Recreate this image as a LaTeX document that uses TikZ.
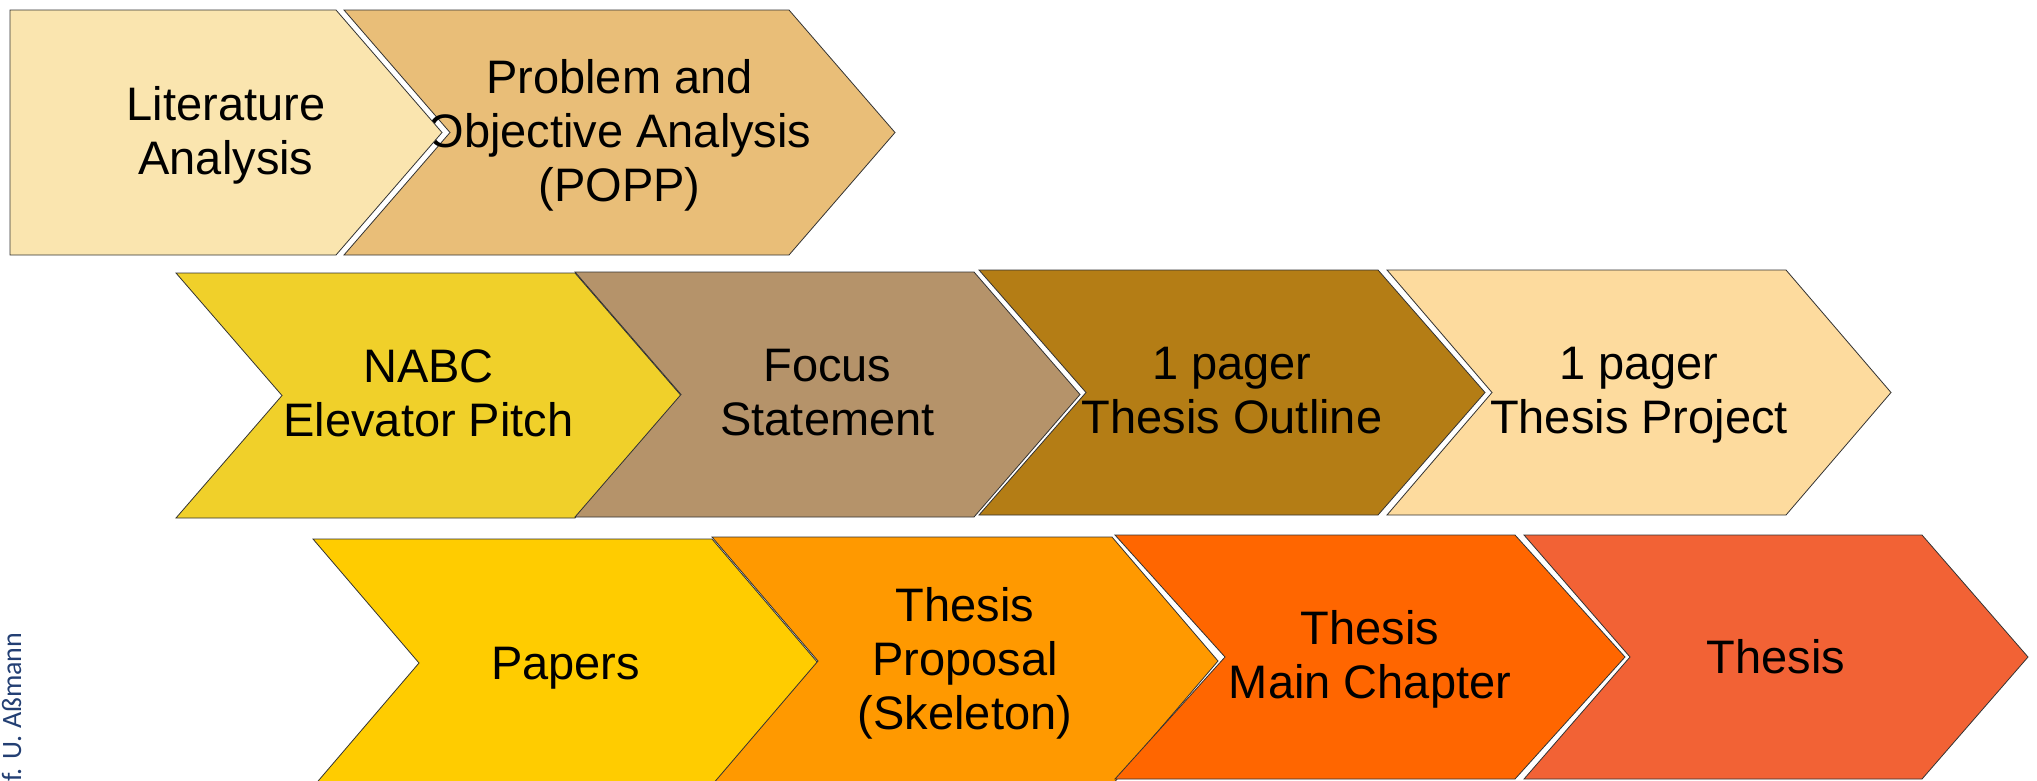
\documentclass[tikz,border=0pt]{standalone}
\usepackage{fontspec}
\setmainfont{Liberation Sans}
\newfontfamily\authorfont{Carlito}

\definecolor{cLit}{HTML}{FAE5AF}
\definecolor{cProb}{HTML}{E9BE78}
\definecolor{cNabc}{HTML}{F0D02A}
\definecolor{cFocus}{HTML}{B5936A}
\definecolor{cOutline}{HTML}{B47D15}
\definecolor{cProject}{HTML}{FDDB9E}
\definecolor{cPapers}{HTML}{FFCC00}
\definecolor{cProposal}{HTML}{FF9900}
\definecolor{cMain}{HTML}{FF6600}
\definecolor{cThesis}{HTML}{F26235}
\definecolor{cAuthor}{HTML}{233F73}

\tikzset{
  stagebox/.style={draw=black!80, line width=0.8pt, line join=miter},
  stagetext/.style={align=center, inner sep=0pt, text=black,
    font=\fontsize{47}{54}\selectfont,
    execute at begin node=\strut, execute at end node=\strut},
}

% chevron: #1 name, #2 left x, #3 top y, #4 width of top edge, #5 height,
% #6 point depth, #7 fill colour, #8 text
\newcommand\chevronstage[8]{%
  \path[stagebox, fill=#7] (#2,#3) -- ++(#4,0) -- ++(#6,#5/2) -- ++(-#6,#5/2)
    -- ++(-#4,0) -- ++(#6,-#5/2) -- cycle;
  \node[stagetext] (#1) at ({#2+(#4+#6)/2},{#3+#5/2+6}) {#8};
}

\begin{document}
\begin{tikzpicture}[x=1pt, y=-1pt]
  \useasboundingbox (0,0) rectangle (2037,780);

  % first row
  \chevronstage{popp}{344}{10}{445}{245}{106}{cProb}{Problem and\\Objective Analysis\\(POPP)}
  \path[stagebox, fill=cLit] (10,10) -- (336,10) -- (442,132.5) -- (336,255) -- (10,255) -- cycle;
  \node[stagetext] (lit) at (226,138.5) {Literature\\Analysis};

  % second row
  \chevronstage{nabc}{176}{273}{399}{245}{106}{cNabc}{NABC\\Elevator Pitch}
  \chevronstage{focus}{575}{272}{399}{245}{106}{cFocus}{Focus\\Statement}
  \chevronstage{outline}{979}{270}{399}{245}{107}{cOutline}{1 pager\\Thesis Outline}
  \chevronstage{project}{1387}{270}{399}{245}{105}{cProject}{1 pager\\Thesis Project}

  % third row
  \chevronstage{papers}{313}{539}{399}{248}{106}{cPapers}{Papers}
  \chevronstage{proposal}{712}{537}{400}{248}{106}{cProposal}{Thesis\\Proposal\\(Skeleton)}
  \chevronstage{mainch}{1115}{535}{400}{244}{110}{cMain}{Thesis\\Main Chapter}
  \chevronstage{thesis}{1524}{535}{398}{244}{106}{cThesis}{Thesis}

  % author line along the left edge
  \node[rotate=90, anchor=base west, inner sep=0pt, text=cAuthor,
        font=\authorfont\fontsize{28}{32}\selectfont] (author) at (21,782) {f. U. Aßmann};
\end{tikzpicture}
\end{document}
